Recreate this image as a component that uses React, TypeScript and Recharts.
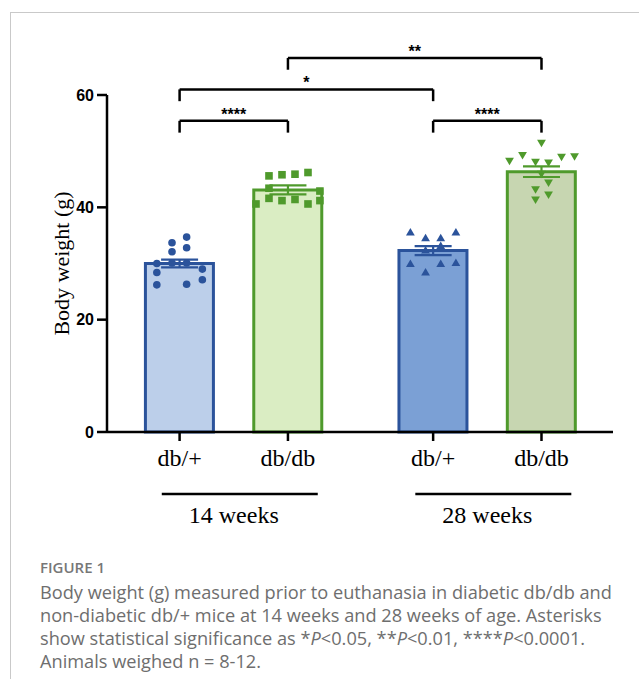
import React from 'react';
import { Bar, Cell, ComposedChart, ErrorBar, ReferenceLine, Scatter, XAxis, YAxis } from 'recharts';

if (typeof document !== 'undefined') document.body.style.margin = '0';

// bar positions on a numeric x axis (gap between the two ages)
const groupX = [1, 2, 3.34, 4.34];
const genotypes = ['db/+', 'db/db', 'db/+', 'db/db'];
const ageX = [1.5, 3.84];
const ageLabels = ['14 weeks', '28 weeks'];
const yTicks = [0, 20, 40, 60];

const means = [30.0, 43.1, 32.3, 46.35];
const sems = [0.7, 0.8, 0.8, 0.95];

// individual animals: [jitter, weight g]
const het14 = [
    [-0.21, 30.0], [-0.21, 28.4], [-0.21, 26.2], [-0.07, 33.7], [-0.07, 32.1], [-0.07, 30.1],
    [0.065, 34.7], [0.065, 32.8], [0.065, 30.1], [0.065, 26.3], [0.21, 29.0], [0.21, 27.1],
];
const dbdb14 = [
    [-0.175, 45.6], [-0.055, 45.8], [0.065, 45.9], [0.185, 46.2], [-0.175, 43.4], [0.295, 42.9],
    [-0.295, 40.6], [-0.175, 41.6], [-0.055, 41.2], [0.065, 41.4], [0.185, 40.6], [0.295, 41.2],
];
const het28 = [
    [-0.21, 35.5], [-0.07, 34.5], [0.07, 34.5], [0.21, 35.5], [-0.07, 32.3],
    [0.07, 33.1], [-0.21, 29.9], [-0.07, 28.4], [0.07, 29.9], [0.21, 30.1],
];
const dbdb28 = [
    [0, 51.5], [-0.175, 49.3], [0.305, 49.1], [0.185, 49.0], [-0.295, 48.3], [-0.055, 48.1],
    [0.065, 48.0], [0, 46.0], [0.065, 44.4], [-0.055, 43.2], [0.065, 42.3], [-0.055, 41.4],
];

const comparisons = [
    { from: 1, to: 2, y: 55.4, stars: '****' },
    { from: 3.34, to: 4.34, y: 55.4, stars: '****' },
    { from: 1, to: 3.34, y: 61.0, stars: '*' },
    { from: 2, to: 4.34, y: 66.6, stars: '**' },
];

const BLUE = '#2b539b';
const GREEN = '#4f9a2c';
const fills = ['#bccfea', '#daedc3', '#7ba0d5', '#c7d6b1'];
const strokes = [BLUE, GREEN, BLUE, GREEN];
const serif = '"Liberation Serif", "Times New Roman", serif';
const sans = '"Liberation Sans", Arial, sans-serif';
const X_DOMAIN = [0.33, 5.0];

const barData = groupX.map((x, i) => ({ x, mean: means[i], sem: sems[i] }));
const toPoints = (pts: number[][], gx: number) => pts.map(([dx, y]) => ({ x: gx + dx, y }));

const circle = (color: string) => (p: any) => <circle cx={p.cx} cy={p.cy} r={3.8} fill={color} />;
const square = (color: string) => (p: any) => (
    <rect x={p.cx - 3.8} y={p.cy - 3.8} width={7.6} height={7.6} fill={color} />
);
const triUp = (color: string) => (p: any) => (
    <polygon points={`${p.cx},${p.cy - 4.5} ${p.cx - 4.4},${p.cy + 3} ${p.cx + 4.4},${p.cy + 3}`} fill={color} />
);
const triDown = (color: string) => (p: any) => (
    <polygon points={`${p.cx},${p.cy + 4.5} ${p.cx - 4.4},${p.cy - 3} ${p.cx + 4.4},${p.cy - 3}`} fill={color} />
);
const noShape = () => <g />;

function AgeTick({ x, y, payload }: any) {
    const i = ageX.indexOf(payload.value);
    return (
        <g>
            <line x1={x - 72} x2={x + 84} y1={y + 8} y2={y + 8} stroke="#000" strokeWidth={2.5} />
            <text x={x} y={y + 37} textAnchor="middle" fontFamily={serif} fontSize={24} fill="#000">
                {ageLabels[i]}
            </text>
        </g>
    );
}

export default function App() {
    const starLabel = (v: string) => ({
        value: v,
        position: 'top' as const,
        offset: 1,
        fontFamily: sans,
        fontWeight: 700,
        fontSize: 16,
        fill: '#000',
    });

    return (
        <div style={{ position: 'relative', width: 639, height: 679, overflow: 'hidden' }}>
            <div
                style={{
                    position: 'absolute',
                    left: 10,
                    top: 12,
                    right: 0,
                    bottom: 0,
                    borderLeft: '1px solid #c9c9c9',
                    borderTop: '1px solid #c9c9c9',
                }}
            />
            <div style={{ position: 'absolute', left: 8, top: 8 }}>
                <ComposedChart
                    width={631}
                    height={530}
                    data={barData}
                    margin={{ top: 87, right: 26, bottom: 2, left: 0 }}
                >
                    <XAxis
                        dataKey="x"
                        type="number"
                        domain={X_DOMAIN}
                        ticks={groupX}
                        interval={0}
                        allowDataOverflow
                        height={54}
                        tickFormatter={(v) => genotypes[groupX.indexOf(v)]}
                        axisLine={{ stroke: '#000', strokeWidth: 2.5 }}
                        tickLine={{ stroke: '#000', strokeWidth: 2.5 }}
                        tickSize={9}
                        tickMargin={8}
                        tick={{ fontFamily: serif, fontSize: 24, fill: '#000' }}
                    />
                    <XAxis
                        xAxisId="age"
                        dataKey="x"
                        type="number"
                        domain={X_DOMAIN}
                        ticks={ageX}
                        interval={0}
                        height={50}
                        axisLine={false}
                        tickLine={false}
                        tickSize={0}
                        tickMargin={0}
                        tick={<AgeTick />}
                    />
                    <XAxis xAxisId="pts" dataKey="x" type="number" domain={X_DOMAIN} allowDataOverflow hide />
                    <YAxis
                        type="number"
                        domain={[0, 60]}
                        ticks={yTicks}
                        interval={0}
                        width={99}
                        axisLine={{ stroke: '#000', strokeWidth: 2.5 }}
                        tickLine={{ stroke: '#000', strokeWidth: 2.5 }}
                        tickSize={10}
                        tickMargin={3}
                        tick={{ fontFamily: sans, fontWeight: 700, fontSize: 16, fill: '#000' }}
                        label={{
                            value: 'Body weight (g)',
                            angle: -90,
                            position: 'center',
                            dx: 4,
                            fontFamily: serif,
                            fontSize: 22,
                            fill: '#000',
                        }}
                    />
                    <Bar dataKey="mean" barSize={68} strokeWidth={3} isAnimationActive={false}>
                        {barData.map((_, i) => (
                            <Cell key={i} fill={fills[i]} stroke={strokes[i]} />
                        ))}
                    </Bar>
                    <Scatter xAxisId="pts" data={toPoints(het14, groupX[0])} dataKey="y" shape={circle(BLUE)} isAnimationActive={false} />
                    <Scatter xAxisId="pts" data={toPoints(dbdb14, groupX[1])} dataKey="y" shape={square(GREEN)} isAnimationActive={false} />
                    <Scatter xAxisId="pts" data={toPoints(het28, groupX[2])} dataKey="y" shape={triUp(BLUE)} isAnimationActive={false} />
                    <Scatter xAxisId="pts" data={toPoints(dbdb28, groupX[3])} dataKey="y" shape={triDown(GREEN)} isAnimationActive={false} />
                    {barData.map((d, i) => (
                        <Scatter
                            key={'sem' + i}
                            xAxisId="pts"
                            data={[{ x: d.x, y: d.mean, sem: d.sem }]}
                            dataKey="y"
                            shape={noShape}
                            isAnimationActive={false}
                        >
                            <ErrorBar dataKey="sem" direction="y" width={18.5} stroke={strokes[i]} strokeWidth={2.2} />
                        </Scatter>
                    ))}
                    {comparisons.map((c, i) => (
                        <ReferenceLine
                            key={'cmp' + i}
                            segment={[{ x: c.from, y: c.y }, { x: c.to, y: c.y }]}
                            ifOverflow="visible"
                            stroke="#000"
                            strokeWidth={2.5}
                            label={starLabel(c.stars)}
                        />
                    ))}
                    {comparisons.map((c, i) => (
                        <ReferenceLine
                            key={'l' + i}
                            segment={[{ x: c.from, y: c.y }, { x: c.from, y: c.y - 2.1 }]}
                            ifOverflow="visible"
                            stroke="#000"
                            strokeWidth={2.5}
                        />
                    ))}
                    {comparisons.map((c, i) => (
                        <ReferenceLine
                            key={'r' + i}
                            segment={[{ x: c.to, y: c.y }, { x: c.to, y: c.y - 2.1 }]}
                            ifOverflow="visible"
                            stroke="#000"
                            strokeWidth={2.5}
                        />
                    ))}
                </ComposedChart>
            </div>
            <div
                style={{
                    position: 'absolute',
                    left: 40,
                    top: 557,
                    fontFamily: '"Open Sans", sans-serif',
                    color: '#6e6e6e',
                    whiteSpace: 'nowrap',
                }}
            >
                <div style={{ fontSize: 15, lineHeight: '20px', fontWeight: 600, color: '#777' }}>FIGURE 1</div>
                <div style={{ fontSize: 18.2, lineHeight: '23px', marginTop: 4 }}>
                    Body weight (g) measured prior to euthanasia in diabetic db/db and
                    <br />
                    non-diabetic db/+ mice at 14 weeks and 28 weeks of age. Asterisks
                    <br />
                    show statistical significance as *<i>P</i>&lt;0.05, **<i>P</i>&lt;0.01, ****<i>P</i>&lt;0.0001.
                    <br />
                    Animals weighed n = 8-12.
                </div>
            </div>
        </div>
    );
}
